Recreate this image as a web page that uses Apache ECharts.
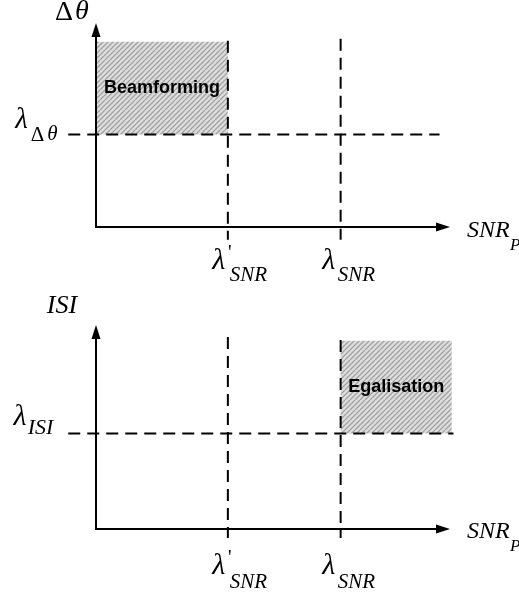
<!DOCTYPE html>
<html><head><meta charset="utf-8">
<script src="https://cdn.jsdelivr.net/npm/echarts@6/dist/echarts.min.js"></script>
<style>html,body{margin:0;padding:0;background:#fff}#c{width:519px;height:598px}</style>
</head><body><div id="c"></div>
<script>
// ---- schematic data (axes run 0..100 in both directions) ----
const snrThresholds = [38, 70.5];              // λ'_SNR , λ_SNR on the SNR_P axis
const snrThresholdNames = ["λ'", "λ"];
const thetaThreshold = 47;                      // λ_Δθ
const isiThreshold = 48.5;                      // λ_ISI
const beamformingX = [0, 38];                   // hatched region, top panel
const beamformingY = [47, 94];
const egalisationX = [70.5, 102.5];             // hatched region, bottom panel
const egalisationY = [48.5, 95.5];
const topVerticalSpan = [[94.5, -6.5], [95.5, -6.5]];     // dashed verticals (from, to)
const bottomVerticalSpan = [[97.5, -4.6], [96, -4.6]];
const topHorizontalSpan = [-8, 99];             // dashed horizontal (from, to)
const bottomHorizontalSpan = [-8, 103];
const regionNames = ['Beamforming', 'Egalisation'];

const SERIF = '"Liberation Serif","DejaVu Serif",serif';
const SANS = '"Liberation Sans",Arial,sans-serif';

// hatch pattern
const hc = document.createElement('canvas');
hc.width = 10; hc.height = 10;
const hx = hc.getContext('2d');
hx.fillStyle = '#dedede'; hx.fillRect(0, 0, 10, 10);
hx.strokeStyle = '#a2a2a2'; hx.lineWidth = 1.3;
for (let k = -10; k <= 20; k += 5) { hx.beginPath(); hx.moveTo(k, 10); hx.lineTo(k + 10, 0); hx.stroke(); }
const hatch = { image: hc, repeat: 'repeat' };

function txt(x, y, text, font, align) {
  return { type: 'text', x: x, y: y, style: { text: text, font: font, fill: '#000', align: align || 'center', verticalAlign: 'middle' } };
}

const panels = [
  { regionX: beamformingX, regionY: beamformingY, name: regionNames[0], threshold: thetaThreshold,
    vSpan: topVerticalSpan, hSpan: topHorizontalSpan, xLabelDy: 0, xNameDy: 4,
    yName: function (a) { return [txt(a[0] - 32, a[1] - 17, 'Δ', '28px ' + SERIF), txt(a[0] - 14, a[1] - 18, 'θ', 'italic 28px ' + SERIF)]; },
    yThr: function (b) { return [txt(b[0] - 74.5, b[1] - 14, 'λ', 'italic 29px ' + SERIF), txt(b[0] - 58.5, b[1] + 1, 'Δ', '21px ' + SERIF), txt(b[0] - 43.5, b[1], 'θ', 'italic 21px ' + SERIF)]; } },
  { regionX: egalisationX, regionY: egalisationY, name: regionNames[1], threshold: isiThreshold,
    vSpan: bottomVerticalSpan, hSpan: bottomHorizontalSpan, xLabelDy: 3, xNameDy: 3,
    yName: function (a) { return [txt(a[0] - 34, a[1] - 26, 'ISI', 'italic 26px ' + SERIF)]; },
    yThr: function (b) { return [txt(b[0] - 76, b[1] - 16, 'λ', 'italic 30px ' + SERIF), txt(b[0] - 55.5, b[1] - 5, 'ISI', 'italic 22px ' + SERIF)]; } }
];

function makeRender(p) {
  return function (params, api) {
    const P = function (x, y) { return api.coord([x, y]); };
    const ch = [];
    const r0 = P(p.regionX[0], p.regionY[1]), r1 = P(p.regionX[1], p.regionY[0]);
    ch.push({ type: 'rect', shape: { x: r0[0], y: r0[1], width: r1[0] - r0[0], height: r1[1] - r0[1] }, style: { fill: hatch } });
    const dash = { stroke: '#000', lineWidth: 2, lineDash: [12, 7] };
    const h0 = P(p.hSpan[0], p.threshold), h1 = P(p.hSpan[1], p.threshold);
    ch.push({ type: 'line', shape: { x1: h0[0], y1: h0[1], x2: h1[0], y2: h1[1] }, style: dash });
    snrThresholds.forEach(function (t, i) {
      const v0 = P(t, p.vSpan[i][0]), v1 = P(t, p.vSpan[i][1]);
      ch.push({ type: 'line', shape: { x1: v0[0], y1: v0[1], x2: v1[0], y2: v1[1] }, style: dash });
      const d = P(t, 0);
      const dy = p.xLabelDy;
      const lamDx = i === 0 ? -9 : -12, subDx = i === 0 ? 2 : -3;
      ch.push(txt(d[0] + lamDx, d[1] + 34 + dy, 'λ', 'italic 30px ' + SERIF));
      if (snrThresholdNames[i].indexOf("'") >= 0) ch.push(txt(d[0] + 2, d[1] + 27 + dy, "'", '20px ' + SERIF));
      ch.push(txt(d[0] + subDx, d[1] + 48 + dy * 1.8, 'SNR', 'italic 21px ' + SERIF, 'left'));
    });
    const c = P((p.regionX[0] + p.regionX[1]) / 2, (p.regionY[0] + p.regionY[1]) / 2);
    ch.push(txt(c[0], c[1], p.name, 'bold 18px ' + SANS));
    const xe = P(100, 0);
    ch.push(txt(xe[0] + 24, xe[1] + p.xNameDy, 'SNR', 'italic 24px ' + SERIF, 'left'));
    ch.push(txt(xe[0] + 67, xe[1] + p.xNameDy + 15, 'P', 'italic 17px ' + SERIF, 'left'));
    p.yName(P(0, 100)).forEach(function (e) { ch.push(e); });
    p.yThr(P(0, p.threshold)).forEach(function (e) { ch.push(e); });
    return { type: 'group', children: ch };
  };
}

const axisLine = { show: true, onZero: true, symbol: ['none', 'triangle'], symbolSize: [9, 14], lineStyle: { color: '#000', width: 2 } };
function ax(i) {
  return { gridIndex: i, type: 'value', min: 0, max: 100, z: 5, axisLine: axisLine, axisTick: { show: false }, axisLabel: { show: false }, splitLine: { show: false } };
}

const chart = echarts.init(document.getElementById('c'), null, { renderer: 'canvas' });
chart.setOption({
  backgroundColor: '#fff',
  animation: false,
  grid: [
    { left: 96, top: 30, width: 347, height: 197 },
    { left: 96, top: 332, width: 347, height: 197 }
  ],
  xAxis: [ax(0), ax(1)],
  yAxis: [ax(0), ax(1)],
  series: panels.map(function (p, i) {
    return { type: 'custom', xAxisIndex: i, yAxisIndex: i, clip: false, silent: true, z: 1, data: [[0, 0]], renderItem: makeRender(p) };
  })
});
</script>
</body></html>
